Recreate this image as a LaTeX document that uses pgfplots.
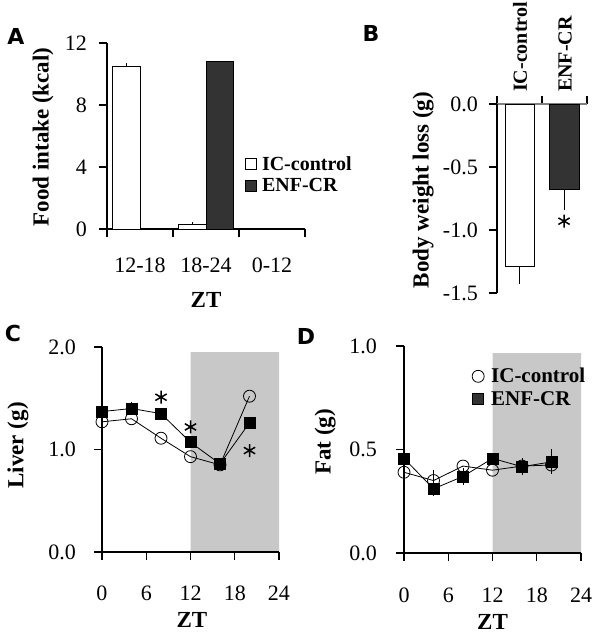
\documentclass[border=0pt]{standalone}
\usepackage{pgfplots}
\pgfplotsset{compat=1.18}
\usepackage{fontspec}
\setmainfont{Liberation Serif}
\newfontfamily\panelfont{DejaVu Sans}
\definecolor{darkbar}{HTML}{333333}
\definecolor{shade}{HTML}{C8C8C8}
\pgfplotsset{
  common/.style={
    scale only axis,
    axis line style={line width=1.1pt},
    tick style={line width=1.1pt, black},
    major tick length=8pt,
    tick align=outside,
    /pgf/number format/assume math mode=true,
    tick label style={font=\fontsize{22}{22}\selectfont, inner sep=0pt},
    label style={font=\bfseries\fontsize{23}{23}\selectfont},
  },
  sqlegend/.style={legend image code/.code={\draw[##1] (0pt,-5.5pt) rectangle (11pt,5.5pt);}},
  markleg/.style={legend image code/.code={\draw[##1] plot coordinates {(6pt,0pt)};}},
}
\begin{document}
\begin{tikzpicture}
\useasboundingbox (0,0) rectangle (600pt,642pt);
% Panel A
\begin{axis}[common, at={(107pt,413pt)}, anchor=south west, width=198pt, height=186pt,
  xmin=0, xmax=3, ymin=0, ymax=12,
  axis x line*=bottom, axis y line*=left,
  xtick={0,1,2,3}, xticklabels={,,,},
  extra x ticks={0.5,1.5,2.5}, extra x tick labels={12-18,18-24,0-12},
  extra x tick style={major tick length=0pt, tick label style={anchor=north, yshift=-29pt}},
  ytick={0,4,8,12}, yticklabel style={anchor=east, xshift=-12pt},
  ylabel={Food intake (kcal)}, ylabel style={at={(axis description cs:-0.323,0.495)}, anchor=center},
  xlabel={ZT}, xlabel style={at={(axis description cs:0.5,-0.38)}, anchor=center},
  legend style={at={(rel axis cs:0.697,0.403)}, anchor=north west, draw=none, fill=none,
    font=\bfseries\fontsize{20}{20}\selectfont, inner sep=0pt, row sep=3pt,
    /tikz/every odd column/.append style={column sep=3pt}},
  legend cell align=left,
]
\addplot[ybar, bar width=0.42, bar shift=0pt, fill=white, draw=black, line width=0.8pt, forget plot,
  error bars/.cd, y dir=plus, y explicit, error mark=none, error bar style={line width=0.8pt}]
  coordinates {(0.29,10.5) +- (0,0.2) (1.29,0.3) +- (0,0.17)};
\addplot[ybar, bar width=0.41, bar shift=0pt, fill=darkbar, draw=black, line width=0.8pt, forget plot]
  coordinates {(1.705,10.8)};
\addlegendimage{sqlegend, fill=white, draw=black, line width=0.8pt}
\addlegendentry{IC-control}
\addlegendimage{sqlegend, fill=darkbar, draw=black, line width=0.8pt}
\addlegendentry{ENF-CR}
\end{axis}
% Panel B
\begin{axis}[common, at={(497pt,349pt)}, anchor=south west, width=90pt, height=189pt,
  xmin=0, xmax=2, ymin=-1.5, ymax=0,
  axis x line*=top, axis y line*=left,
  x axis line style={gray},
  xtick={0,1,2}, xticklabels={,,},
  ytick={0,-0.5,-1,-1.5}, yticklabel style={anchor=east, xshift=-11pt,
    /pgf/number format/.cd, fixed, fixed zerofill, precision=1},
  ylabel={Body weight loss (g)}, ylabel style={at={(axis description cs:-0.82,0.545)}, anchor=center},
]
\addplot[ybar, bar width=0.64, bar shift=0pt, fill=white, draw=black, line width=0.8pt,
  error bars/.cd, y dir=minus, y explicit, error mark=none, error bar style={line width=0.8pt}]
  coordinates {(0.5,-1.29) +- (0,0.14)};
\addplot[ybar, bar width=0.66, bar shift=0pt, fill=darkbar, draw=black, line width=0.8pt,
  error bars/.cd, y dir=minus, y explicit, error mark=none, error bar style={line width=0.8pt}]
  coordinates {(1.49,-0.675) +- (0,0.165)};
\addplot[only marks, mark=asterisk, mark size=6.5pt, line width=1.5pt, black]
  coordinates {(1.49,-0.93)};
\end{axis}
\node[rotate=90, anchor=west, font=\bfseries\fontsize{20}{20}\selectfont, inner sep=0pt] at (520pt,550pt) {IC-control};
\node[rotate=90, anchor=west, font=\bfseries\fontsize{20}{20}\selectfont, inner sep=0pt] at (565pt,550pt) {ENF-CR};
% Panel C
\begin{axis}[common, at={(102pt,90pt)}, anchor=south west, width=177pt, height=205pt,
  xmin=0, xmax=24, ymin=0, ymax=2,
  axis x line*=bottom, axis y line*=left, axis on top,
  xtick={0,6,12,18,24}, xticklabel style={anchor=north, yshift=-26pt},
  ytick={0,1,2}, yticklabel style={anchor=east, xshift=-18pt,
    /pgf/number format/.cd, fixed, fixed zerofill, precision=1},
  ylabel={Liver (g)}, ylabel style={at={(axis description cs:-0.475,0.52)}, anchor=center},
  xlabel={ZT}, xlabel style={at={(axis description cs:0.508,-0.33)}, anchor=center},
]
\addplot[fill=shade, draw=none] coordinates {(12,0) (12,1.95) (24,1.95) (24,0)} \closedcycle;
\addplot[black, line width=0.8pt, mark=o, mark size=6pt, mark options={fill=white, line width=0.8pt}]
  coordinates {(0,1.27) (4,1.30) (8,1.11) (12,0.93) (16,0.85) (20,1.52)};
\addplot[black, line width=0.8pt, mark=square*, mark size=5.5pt, mark options={fill=black},
  error bars/.cd, y dir=plus, y explicit, error mark=none]
  coordinates {(0,1.37) (4,1.40) +- (0,0.06) (8,1.35) (12,1.07) (16,0.86) (20,1.26)};
\addplot[only marks, mark=asterisk, mark size=6.5pt, line width=1.5pt, black]
  coordinates {(8,1.51) (12,1.22) (20,0.99)};
\end{axis}
% Panel D
\begin{axis}[common, at={(404pt,89pt)}, anchor=south west, width=177pt, height=207pt,
  xmin=0, xmax=24, ymin=0, ymax=1,
  axis x line*=bottom, axis y line*=left, axis on top,
  xtick={0,6,12,18,24}, xticklabel style={anchor=north, yshift=-27pt},
  ytick={0,0.5,1}, yticklabel style={anchor=east, xshift=-19pt,
    /pgf/number format/.cd, fixed, fixed zerofill, precision=1},
  ylabel={Fat (g)}, ylabel style={at={(axis description cs:-0.446,0.536)}, anchor=center},
  xlabel={ZT}, xlabel style={at={(axis description cs:0.5,-0.335)}, anchor=center},
  legend style={at={(rel axis cs:0.384,0.903)}, anchor=north west, draw=none, fill=none,
    font=\bfseries\fontsize{21}{21}\selectfont, inner sep=0pt, row sep=3pt,
    /tikz/every odd column/.append style={column sep=5pt}},
  legend cell align=left,
]
\addplot[fill=shade, draw=none, forget plot] coordinates {(12,0) (12,0.965) (24,0.965) (24,0)} \closedcycle;
\addplot[black, line width=0.8pt, mark=o, mark size=6pt, mark options={fill=white, line width=0.8pt}, forget plot,
  error bars/.cd, y dir=both, y explicit, error mark=none]
  coordinates {(0,0.39) (4,0.35) +- (0,0.05) (8,0.42) (12,0.40) (16,0.42) (20,0.425)};
\addplot[black, line width=0.8pt, mark=square*, mark size=5.5pt, mark options={fill=black}, forget plot,
  error bars/.cd, y dir=both, y explicit, error mark=none]
  coordinates {(0,0.457) (4,0.31) +- (0,0.035) (8,0.37) +- (0,0.04) (12,0.457) (16,0.417) +- (0,0.04) (20,0.44) +- (0,0.06)};
\addlegendimage{markleg, only marks, mark=o, mark size=6pt, mark options={fill=white, line width=0.8pt}, black}
\addlegendentry{IC-control}
\addlegendimage{markleg, only marks, mark=square*, mark size=5.5pt, mark options={fill=darkbar}, black}
\addlegendentry{ENF-CR}
\end{axis}
% Panel letters
\node[font=\panelfont\bfseries\fontsize{22}{22}\selectfont] at (16pt,606pt) {A};
\node[font=\panelfont\bfseries\fontsize{22}{22}\selectfont] at (371pt,609pt) {B};
\node[font=\panelfont\bfseries\fontsize{22}{22}\selectfont] at (13pt,309pt) {C};
\node[font=\panelfont\bfseries\fontsize{22}{22}\selectfont] at (306pt,306pt) {D};
\end{tikzpicture}
\end{document}
